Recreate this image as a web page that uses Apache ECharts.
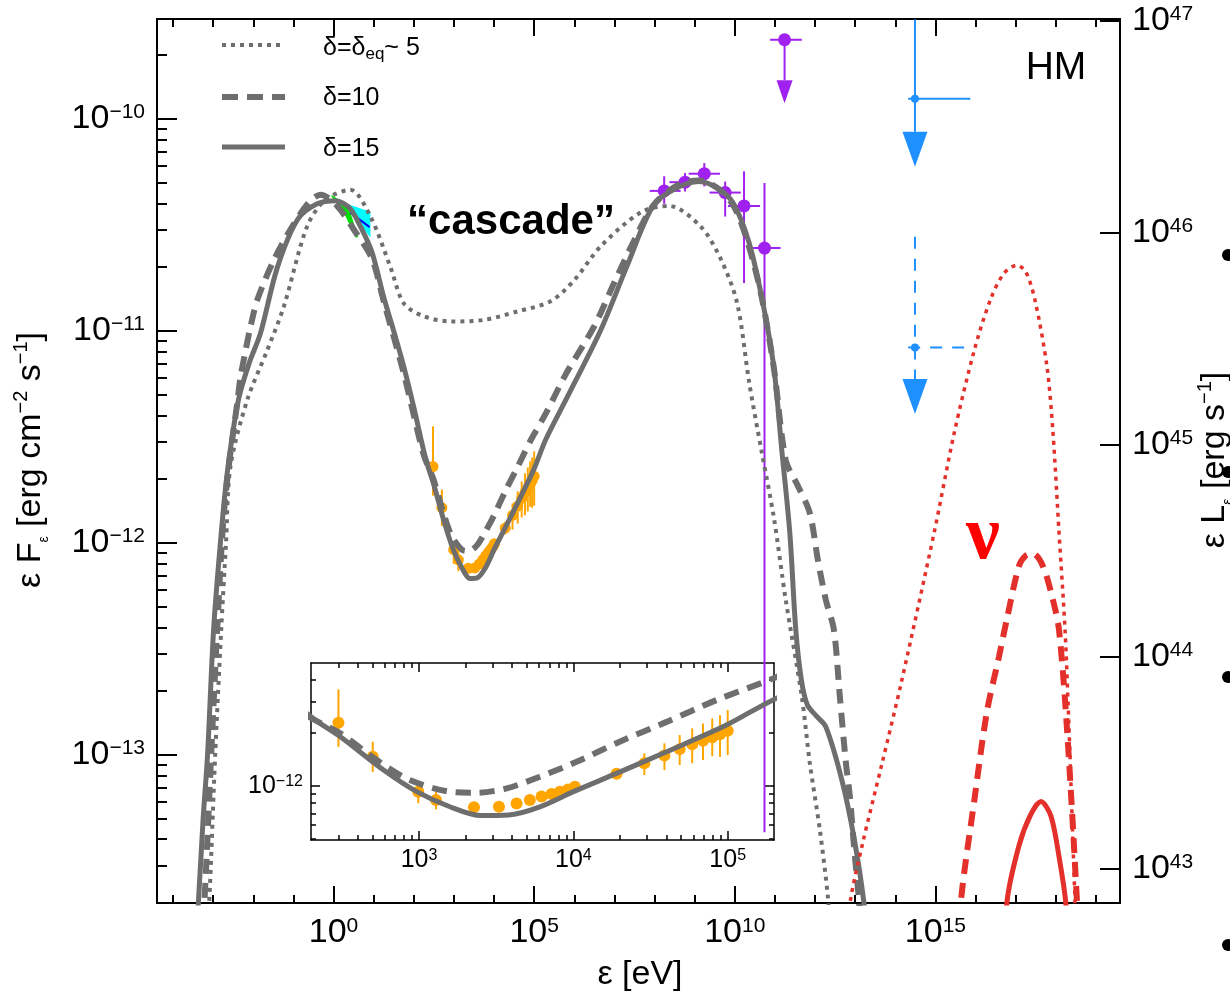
<!DOCTYPE html>
<html><head><meta charset="utf-8">
<script src="https://cdn.jsdelivr.net/npm/echarts@6/dist/echarts.min.js"></script>
<style>html,body{margin:0;padding:0;background:#fff}#c{width:1230px;height:995px}</style>
</head><body><div id="c"></div>
<script>
// ---------- DATA (log10 of ε [eV] and log10 of εFε [erg cm^-2 s^-1]) ----------
const solidLogE = [-3.45,-3.37,-3.25,-3.14,-2.99,-2.82,-2.65,-2.37,-2.10,-1.82,-1.40,-0.90,-0.41,0.05,0.40,0.67,0.96,1.25,1.50,1.75,2.00,2.30,2.49,2.77,2.985,3.20,3.40,3.58,3.783,4.00,4.28,4.604,4.992,5.294,5.83,6.66,7.30,7.96,8.50,9.11,9.60,9.97,10.35,10.67,10.97,11.17,11.37,11.52,11.66,11.81,12.05,12.27,12.67,12.97,13.22,13.30];
const solidLogF = [-13.90,-13.70,-13.30,-13.00,-12.41,-12.00,-11.67,-11.325,-11.15,-11.01,-10.70,-10.475,-10.40,-10.385,-10.42,-10.507,-10.63,-10.84,-11.00,-11.168,-11.36,-11.606,-11.72,-11.909,-12.032,-12.118,-12.168,-12.165,-12.118,-12.032,-11.928,-11.805,-11.653,-11.51,-11.31,-10.995,-10.70,-10.41,-10.33,-10.295,-10.33,-10.40,-10.58,-10.84,-11.168,-11.56,-11.95,-12.41,-12.647,-12.765,-12.82,-12.868,-13.12,-13.39,-13.70,-13.90];

const dashedLogE = [-3.30,-3.22,-3.05,-2.90,-2.75,-2.60,-2.40,-2.32,-2.19,-2.07,-1.90,-1.50,-1.07,-0.60,-0.32,0.09,0.50,0.96,1.25,1.75,2.24,2.49,2.726,2.94,3.20,3.373,3.568,3.783,4.02,4.30,4.604,4.927,5.294,5.80,6.49,7.00,7.50,8.00,8.60,9.10,9.60,10.00,10.35,10.67,10.97,11.27,11.57,11.87,12.07,12.27,12.47,12.62,12.77,12.87,12.97,13.10,13.16];
const dashedLogF = [-13.90,-13.70,-13.00,-12.41,-11.90,-11.62,-11.34,-11.22,-11.09,-10.98,-10.853,-10.67,-10.52,-10.39,-10.357,-10.41,-10.52,-10.66,-10.86,-11.20,-11.58,-11.70,-11.852,-11.966,-12.032,-12.038,-12.013,-11.947,-11.862,-11.748,-11.635,-11.511,-11.388,-11.20,-10.98,-10.77,-10.57,-10.40,-10.31,-10.29,-10.33,-10.42,-10.60,-10.84,-11.17,-11.61,-11.73,-11.86,-12.08,-12.27,-12.41,-12.73,-13.04,-13.20,-13.43,-13.70,-13.90];

const dottedLogE = [-3.18,-3.10,-2.95,-2.80,-2.68,-2.57,-2.15,-1.65,-1.24,-0.66,-0.20,0.42,0.92,1.42,1.75,2.24,2.92,3.74,4.58,5.41,6.00,6.66,7.66,8.36,9.15,9.66,10.06,10.36,10.66,10.97,11.27,11.67,11.87,12.12,12.32,12.40];
const dottedLogF = [-13.90,-13.70,-13.00,-12.41,-12.00,-11.64,-11.325,-11.09,-10.885,-10.507,-10.38,-10.334,-10.46,-10.70,-10.87,-10.93,-10.955,-10.948,-10.908,-10.86,-10.76,-10.60,-10.44,-10.41,-10.507,-10.664,-10.87,-11.245,-11.56,-11.876,-12.27,-12.726,-13.04,-13.355,-13.67,-13.90];

const nuDottedLogE = [12.80,12.87,13.17,13.67,14.16,14.97,15.47,15.97,16.37,16.70,17.03,17.25,17.48,17.78,17.93,18.08,18.23,18.33,18.48,18.52];
const nuDottedLogF = [-13.90,-13.70,-13.43,-13.04,-12.65,-11.95,-11.48,-11.09,-10.853,-10.73,-10.69,-10.72,-10.853,-11.168,-11.48,-11.95,-12.41,-12.88,-13.70,-13.90];
const nuDashedLogE = [15.60,15.63,15.98,16.28,16.58,16.78,17.08,17.25,17.43,17.68,17.93,18.08,18.28,18.53,18.56];
const nuDashedLogF = [-13.90,-13.70,-13.20,-12.80,-12.54,-12.36,-12.11,-12.06,-12.05,-12.11,-12.27,-12.41,-12.88,-13.70,-13.90];
const nuSolidLogE = [16.75,16.78,17.08,17.38,17.63,17.88,18.08,18.25,18.28];
const nuSolidLogF = [-13.90,-13.70,-13.43,-13.28,-13.22,-13.29,-13.48,-13.70,-13.90];

// X-ray (orange) points
const xrayLogE  = [2.478,2.70,2.995,3.11,3.356,3.518,3.632,3.718,3.794,3.859,3.913,3.966,4.01,4.28,4.46,4.59,4.689,4.77,4.84,4.90,4.95,5.00];
const xrayLogF  = [-11.64,-11.834,-12.032,-12.08,-12.12,-12.118,-12.10,-12.08,-12.06,-12.045,-12.032,-12.019,-12.004,-11.93,-11.87,-11.826,-11.79,-11.763,-11.742,-11.723,-11.705,-11.686];
const xrayLogLo = [-11.777,-11.92,-12.098,-12.133,-12.14,-12.138,-12.12,-12.10,-12.08,-12.065,-12.052,-12.039,-12.024,-11.96,-11.937,-11.909,-11.88,-11.87,-11.852,-11.83,-11.834,-11.824];
const xrayLogHi = [-11.45,-11.748,-11.995,-12.032,-12.10,-12.098,-12.08,-12.06,-12.04,-12.025,-12.012,-11.999,-11.984,-11.90,-11.814,-11.757,-11.71,-11.672,-11.644,-11.615,-11.597,-11.568];

// gamma-ray (purple) points
const gammaLogE   = [8.24,8.76,9.24,9.76,10.23,10.74];
const gammaLogF   = [-10.339,-10.298,-10.258,-10.347,-10.41,-10.609];
const gammaLogLo  = [-10.40,-10.342,-10.318,-10.46,-10.774,-13.365];
const gammaLogHi  = [-10.27,-10.255,-10.208,-10.295,-10.247,-10.302];
const gammaLogELo = [7.88,8.37,8.85,9.37,9.83,10.34];
const gammaLogEHi = [8.65,9.15,9.63,10.15,10.63,11.14];
// gamma-ray upper limit (purple)
const gammaUL = {logE:11.24, logF:-9.626, logELo:10.88, logEHi:11.67, logTip:-9.925};

// neutrino upper limits (blue)
const nuULLogE   = [14.49,14.49];
const nuULLogF   = [-9.904,-11.078];
const nuULLogHi  = [-9.53,-10.556];
const nuULLogTip = [-10.225,-11.392];
const nuULLogELo = [14.32,14.32];
const nuULLogEHi = [15.87,15.87];
const nuULDashed = [0,1];

// optical/UV bow-ties
const bowGreen = [[-0.05,-10.357],[0.25,-10.395],[0.42,-10.442],[0.62,-10.556],[0.55,-10.56],[0.20,-10.419],[-0.05,-10.367]];
const bowCyan  = [[0.25,-10.395],[0.92,-10.438],[0.92,-10.56],[0.42,-10.438]];
const bowBlue  = [[0.42,-10.442],[0.90,-10.51]];

// axis ticks
const mainXMajor = [0,5,10,15];
const mainYMajor = [-13,-12,-11,-10];
const lumMajor   = [43,44,45,46,47];
const insetXMajor = [3,4,5];
const insetYMajor = [-12];

// ---------- BUILD ----------
const FONT = "'Liberation Sans', Arial, Helvetica, sans-serif";
const GRAY = '#6e6e6e', RED = '#e3302a', ORANGE = '#ffa500', PURPLE = '#a020f0', BLUE = '#1e90ff';
const X0=-4.4, X1=19.6, Y0=-13.699, Y1=-9.528, LUMOFF=56.536;
const IX0=2.30, IX1=5.30, IY0=-12.307, IY1=-11.30;

const zip = (a,b) => a.map((v,i)=>[v,b[i]]);
function logMinors(lo,hi){const o=[];for(let n=Math.floor(lo)-1;n<=Math.ceil(hi);n++)for(let k=2;k<=9;k++){const v=n+Math.log10(k);if(v>lo+0.002&&v<hi-0.002)o.push(v);}return o;}
function ints(lo,hi){const o=[];for(let n=Math.ceil(lo);n<=Math.floor(hi);n++)o.push(n);return o;}
function sup(v){const n=Math.round(v);return '{b|10}{s|'+(n<0?'\u2212'+(-n):''+n)+'}';}
const richBig = {b:{fontSize:34,fontFamily:FONT,color:'#000',lineHeight:34,padding:[6,0,0,0],verticalAlign:'bottom'},s:{fontSize:21,fontFamily:FONT,color:'#000',lineHeight:6,verticalAlign:'top'}};
const richSmall = {b:{fontSize:25,fontFamily:FONT,color:'#000',lineHeight:25,padding:[4,0,0,0],verticalAlign:'bottom'},s:{fontSize:16,fontFamily:FONT,color:'#000',lineHeight:5,verticalAlign:'top'}};

function ax(o){
  const base={type:'value',splitLine:{show:false},axisLine:{show:false,onZero:false},axisLabel:{show:false},axisTick:{show:false}};
  return Object.assign(base,o);
}
function tickAx(grid,min,max,pos,vals,len,w,line,label){
  return ax({gridIndex:grid,min:min,max:max,position:pos,
    axisLine:{show:!!line,onZero:false,lineStyle:{color:'#000',width:line||1}},
    axisTick:{show:true,inside:true,length:len,lineStyle:{color:'#000',width:w},customValues:vals},
    axisLabel:label?Object.assign({show:true,customValues:vals,formatter:sup},label):{show:false}});
}

const xAxes = [
  tickAx(0,X0,X1,'bottom',mainXMajor,17,2,2,{rich:richBig,margin:13}),
  tickAx(0,X0,X1,'bottom',ints(X0,X1),8,2,0,null),
  tickAx(0,X0,X1,'top',mainXMajor,17,2,2,null),
  tickAx(0,X0,X1,'top',ints(X0,X1),8,2,0,null),
  tickAx(1,IX0,IX1,'bottom',insetXMajor,9,1.5,1.5,{rich:richSmall,margin:8}),
  tickAx(1,IX0,IX1,'bottom',logMinors(IX0,IX1),5,1.5,0,null),
  tickAx(1,IX0,IX1,'top',insetXMajor,9,1.5,1.5,null),
  tickAx(1,IX0,IX1,'top',logMinors(IX0,IX1),5,1.5,0,null)
];
const yAxes = [
  tickAx(0,Y0,Y1,'left',mainYMajor,20,2,2,{rich:richBig,margin:12}),
  tickAx(0,Y0,Y1,'left',logMinors(Y0,Y1),10,2,0,null),
  tickAx(0,Y0+LUMOFF,Y1+LUMOFF,'right',lumMajor,20,2,2,{rich:richBig,margin:12}),
  tickAx(1,IY0,IY1,'left',insetYMajor,9,1.5,1.5,{rich:richSmall,margin:8}),
  tickAx(1,IY0,IY1,'left',logMinors(IY0,IY1),5,1.5,0,null),
  tickAx(1,IY0,IY1,'right',insetYMajor,9,1.5,1.5,null),
  tickAx(1,IY0,IY1,'right',logMinors(IY0,IY1),5,1.5,0,null)
];

function lineS(name,xs,ys,color,width,dash,xi,yi){
  return {type:'line',name:name,xAxisIndex:xi||0,yAxisIndex:yi||0,data:zip(xs,ys),showSymbol:false,symbol:'none',
    smooth:0.3,clip:true,silent:true,lineStyle:{color:color,width:width,type:dash||'solid',cap:'butt'}};
}
function errRender(color,r,lw){
  return function(params,api){
    const x=api.value(0),y=api.value(1);
    const p=api.coord([x,y]),a=api.coord([x,api.value(2)]),b=api.coord([x,api.value(3)]);
    const c=api.coord([api.value(4),y]),d=api.coord([api.value(5),y]);
    return {type:'group',children:[
      {type:'line',shape:{x1:a[0],y1:a[1],x2:b[0],y2:b[1]},style:{stroke:color,lineWidth:lw}},
      {type:'line',shape:{x1:c[0],y1:c[1],x2:d[0],y2:d[1]},style:{stroke:color,lineWidth:lw}},
      {type:'circle',shape:{cx:p[0],cy:p[1],r:r},style:{fill:color}}
    ]};
  };
}
const xrayData = xrayLogE.map((v,i)=>[v,xrayLogF[i],xrayLogLo[i],xrayLogHi[i],v,v]);
const gammaData = gammaLogE.map((v,i)=>[v,gammaLogF[i],gammaLogLo[i],gammaLogHi[i],gammaLogELo[i],gammaLogEHi[i]]);

const series = [
  lineS('δ=δeq~5',dottedLogE,dottedLogF,GRAY,4,[4,5]),
  lineS('δ=10',dashedLogE,dashedLogF,GRAY,6,[15,9]),
  lineS('δ=15',solidLogE,solidLogF,GRAY,5),
  lineS('ν δ=δeq',nuDottedLogE,nuDottedLogF,RED,3.5,[4,5]),
  lineS('ν δ=10',nuDashedLogE,nuDashedLogF,RED,6,[15,9]),
  lineS('ν δ=15',nuSolidLogE,nuSolidLogF,RED,5),
  {type:'custom',name:'bowties',xAxisIndex:0,yAxisIndex:0,silent:true,data:[[0],[1],[2]],
    renderItem:function(params,api){
      const i=api.value(0);
      const polys=[bowGreen,bowCyan,bowBlue],cols=['#00e000','#00ffff','#0000ff'];
      const pts=polys[i].map(q=>api.coord(q));
      if(i===2) return {type:'polyline',shape:{points:pts},style:{stroke:cols[i],lineWidth:2,fill:null}};
      return {type:'polygon',shape:{points:pts},style:{fill:cols[i]}};
    }},
  {type:'custom',name:'X-ray',xAxisIndex:0,yAxisIndex:0,silent:true,data:xrayData,encode:{x:0,y:1},renderItem:errRender(ORANGE,5.5,2)},
  {type:'custom',name:'gamma',xAxisIndex:0,yAxisIndex:0,silent:true,data:gammaData,encode:{x:0,y:1},renderItem:errRender(PURPLE,6.5,2)},
  {type:'custom',name:'gamma UL',xAxisIndex:0,yAxisIndex:0,silent:true,
    data:[[gammaUL.logE,gammaUL.logF,gammaUL.logELo,gammaUL.logEHi,gammaUL.logTip]],encode:{x:0,y:1},
    renderItem:function(params,api){
      const x=api.value(0),y=api.value(1);
      const p=api.coord([x,y]),c=api.coord([api.value(2),y]),d=api.coord([api.value(3),y]),t=api.coord([x,api.value(4)]);
      const ah=23,aw=16;
      return {type:'group',children:[
        {type:'line',shape:{x1:c[0],y1:p[1],x2:d[0],y2:p[1]},style:{stroke:PURPLE,lineWidth:2}},
        {type:'line',shape:{x1:p[0],y1:p[1],x2:p[0],y2:t[1]-ah},style:{stroke:PURPLE,lineWidth:2}},
        {type:'polygon',shape:{points:[[t[0]-aw/2,t[1]-ah],[t[0]+aw/2,t[1]-ah],[t[0],t[1]]]},style:{fill:PURPLE}},
        {type:'circle',shape:{cx:p[0],cy:p[1],r:6.5},style:{fill:PURPLE}}
      ]};
    }},
  {type:'custom',name:'IceCube UL',xAxisIndex:0,yAxisIndex:0,silent:true,
    data:nuULLogE.map((v,i)=>[v,nuULLogF[i],nuULLogHi[i],nuULLogTip[i],nuULLogELo[i],nuULLogEHi[i],nuULDashed[i]]),encode:{x:0,y:1},
    renderItem:function(params,api){
      const x=api.value(0),y=api.value(1);
      const p=api.coord([x,y]),h=api.coord([x,api.value(2)]),t=api.coord([x,api.value(3)]);
      const c=api.coord([api.value(4),y]),d=api.coord([api.value(5),y]);
      const dash=api.value(6)?[12,10]:null;
      const ah=35,aw=25;
      return {type:'group',children:[
        {type:'line',shape:{x1:p[0],y1:h[1],x2:p[0],y2:p[1]},style:{stroke:BLUE,lineWidth:2,lineDash:dash}},
        {type:'line',shape:{x1:p[0],y1:p[1],x2:p[0],y2:t[1]-ah},style:{stroke:BLUE,lineWidth:2,lineDash:dash}},
        {type:'line',shape:{x1:c[0],y1:p[1],x2:d[0],y2:p[1]},style:{stroke:BLUE,lineWidth:2,lineDash:dash}},
        {type:'polygon',shape:{points:[[t[0]-aw/2,t[1]-ah],[t[0]+aw/2,t[1]-ah],[t[0],t[1]]]},style:{fill:BLUE}},
        {type:'circle',shape:{cx:p[0],cy:p[1],r:4},style:{fill:BLUE}}
      ]};
    }},
  // inset
  lineS('inset δ=10',dashedLogE,dashedLogF,GRAY,6,[15,9],4,3),
  lineS('inset δ=15',solidLogE,solidLogF,GRAY,5,null,4,3),
  {type:'custom',name:'inset X-ray',xAxisIndex:4,yAxisIndex:3,silent:true,data:xrayData,encode:{x:0,y:1},renderItem:errRender(ORANGE,6,2)}
];

const richTitle = {m:{fontSize:34,fontFamily:FONT,color:'#000',lineHeight:40},
  sup:{fontSize:20,fontFamily:FONT,color:'#000',lineHeight:22,verticalAlign:'top'},
  sub:{fontSize:14,fontFamily:FONT,color:'#000',lineHeight:14,verticalAlign:'bottom'}};
const richLeg = {a:{fontSize:25,fontFamily:FONT,color:'#000',lineHeight:30},
  sub:{fontSize:17,fontFamily:FONT,color:'#000',lineHeight:14,verticalAlign:'bottom'}};

const graphic = [
  {type:'line',shape:{x1:222,y1:45,x2:285,y2:45},style:{stroke:GRAY,lineWidth:4,lineDash:[4,5]}},
  {type:'line',shape:{x1:222,y1:97,x2:285,y2:97},style:{stroke:GRAY,lineWidth:6,lineDash:[16,9]}},
  {type:'line',shape:{x1:222,y1:147,x2:285,y2:147},style:{stroke:GRAY,lineWidth:5}},
  {type:'text',x:323,y:48,style:{text:'{a|δ=δ}{sub|eq}{a|~ 5}',rich:richLeg,align:'left',verticalAlign:'middle'}},
  {type:'text',x:323,y:98,style:{text:'{a|δ=10}',rich:richLeg,align:'left',verticalAlign:'middle'}},
  {type:'text',x:323,y:149,style:{text:'{a|δ=15}',rich:richLeg,align:'left',verticalAlign:'middle'}},
  {type:'text',x:1056,y:68,style:{text:'HM',fontSize:39,fontFamily:FONT,fill:'#000',align:'center',verticalAlign:'middle'}},
  {type:'text',x:511,y:222,style:{text:'\u201Ccascade\u201D',fontSize:42,fontWeight:'bold',fontFamily:FONT,fill:'#000',align:'center',verticalAlign:'middle'}},
  {type:'text',x:983,y:538,style:{text:'\u03BD',fontSize:76,fontWeight:'bold',fontFamily:"'Liberation Serif', 'DejaVu Serif', serif",fill:'#ff0000',align:'center',verticalAlign:'middle'}},
  {type:'text',x:640,y:975,style:{text:'ε [eV]',fontSize:34,fontFamily:FONT,fill:'#000',align:'center',verticalAlign:'middle'}},
  {type:'text',x:31,y:460,rotation:Math.PI/2,style:{text:'{m|ε F}{sub|ε}{m| [erg cm}{sup|\u22122}{m| s}{sup|\u22121}{m|]}',rich:richTitle,align:'center',verticalAlign:'middle'}},
  {type:'text',x:1215,y:460,rotation:Math.PI/2,style:{text:'{m|ε L}{sub|ε}{m| [erg s}{sup|\u22121}{m|]}',rich:richTitle,align:'center',verticalAlign:'middle'}},
  {type:'circle',shape:{cx:1228,cy:255,r:6},style:{fill:'#000'}},
  {type:'circle',shape:{cx:1228,cy:472,r:6},style:{fill:'#000'}},
  {type:'circle',shape:{cx:1228,cy:677,r:6},style:{fill:'#000'}},
  {type:'circle',shape:{cx:1228,cy:945,r:6},style:{fill:'#000'}}
];

const chart = echarts.init(document.getElementById('c'),null,{renderer:'canvas'});
chart.setOption({
  animation:false,
  backgroundColor:'#fff',
  grid:[
    {left:157,top:19,width:963,height:884,outerBoundsMode:'none',containLabel:false},
    {left:311,top:663,width:463,height:177,outerBoundsMode:'none',containLabel:false}
  ],
  xAxis:xAxes,
  yAxis:yAxes,
  series:series,
  graphic:graphic
});
</script></body></html>
